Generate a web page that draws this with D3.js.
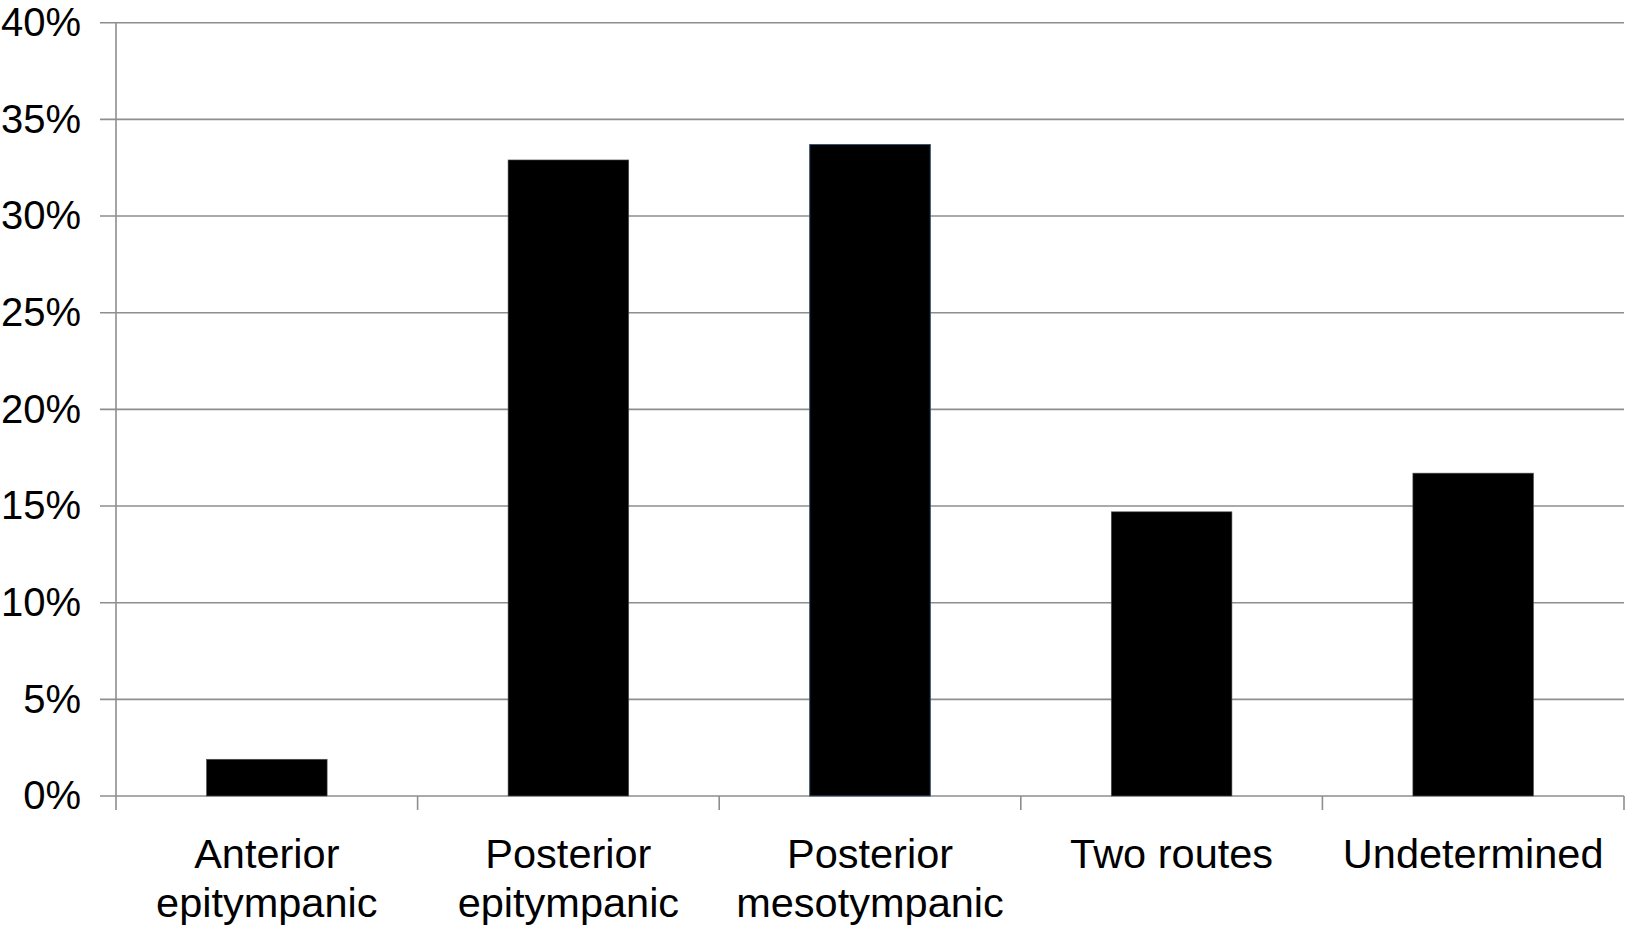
<!DOCTYPE html>
<html>
<head>
<meta charset="utf-8">
<script src="https://cdn.jsdelivr.net/npm/d3@7"></script>
<style>
  body { margin: 0; background: #fff; }
  svg { display: block; }
  text { font-family: "Liberation Sans", Arial, Helvetica, sans-serif; fill: #000; }
</style>
</head>
<body>
<div class="chart"></div>
<script>
// categories (line breaks as in the original labels)
const categories = [
    "Anterior\nepitympanic",
    "Posterior\nepitympanic",
    "Posterior\nmesotympanic",
    "Two routes",
    "Undetermined"
];
// share of cases per route
const values = [0.019, 0.329, 0.337, 0.147, 0.167];
const yTicks = [0, 0.05, 0.10, 0.15, 0.20, 0.25, 0.30, 0.35, 0.40];

const svgWidth = 1625, svgHeight = 927;
const margin = { top: 22.7, left: 116, bottom: 131, right: 1 };

const svg = d3.select('.chart').append('svg')
    .attr('width', svgWidth)
    .attr('height', svgHeight);

//SCALES
const x = d3.scaleBand()
    .domain(categories)
    .range([margin.left, svgWidth - margin.right])
    .padding(0);

const y = d3.scaleLinear()
    .domain([0, 0.4])
    .range([svgHeight - margin.bottom, margin.top]);

const gridColor = "#8e8e8e";

//GRIDLINES
svg.append("g")
    .selectAll("line")
    .data(yTicks)
    .join("line")
    .attr("x1", margin.left - 16)
    .attr("x2", svgWidth - margin.right)
    .attr("y1", d => y(d))
    .attr("y2", d => y(d))
    .attr("stroke", gridColor)
    .attr("stroke-width", 1.6);

//Y AXIS (labels only, line drawn below)
const yAxis = d3.axisLeft(y)
    .tickValues(yTicks)
    .tickFormat(d3.format(".0%"))
    .tickSize(0)
    .tickPadding(35);

svg.append("g")
    .attr("transform", `translate(${margin.left},0)`)
    .call(yAxis)
    .call(g => g.select(".domain").remove())
    .call(g => g.selectAll("text")
        .attr("font-size", 40)
        .attr("font-family", '"Liberation Sans", Arial, sans-serif'));

//VERTICAL AXIS LINE (runs down into the first tick)
svg.append("line")
    .attr("x1", margin.left).attr("x2", margin.left)
    .attr("y1", y(0.4)).attr("y2", y(0) + 14)
    .attr("stroke", gridColor)
    .attr("stroke-width", 1.6);

//X TICKS at category boundaries
const edges = categories.map(c => x(c)).concat([x(categories[categories.length - 1]) + x.bandwidth()]);
svg.append("g")
    .selectAll("line")
    .data(edges.slice(1))
    .join("line")
    .attr("x1", d => d).attr("x2", d => d)
    .attr("y1", y(0)).attr("y2", y(0) + 14)
    .attr("stroke", gridColor)
    .attr("stroke-width", 1.6);

//BARS
const barRatio = 0.4;
svg.append("g")
    .selectAll("rect")
    .data(values)
    .join("rect")
    .attr("x", (d, i) => x(categories[i]) + x.bandwidth() * (1 - barRatio) / 2)
    .attr("width", x.bandwidth() * barRatio)
    .attr("y", d => y(d))
    .attr("height", d => y(0) - y(d))
    .attr("fill", "#000")
    .attr("stroke", (d, i) => i === 2 ? "#3b5573" : "#555")
    .attr("stroke-width", (d, i) => i === 2 ? 1 : 0.6);

//X LABELS
const labels = svg.append("g")
    .selectAll("text")
    .data(categories)
    .join("text")
    .attr("text-anchor", "middle")
    .attr("font-size", 41.5)
    .attr("x", d => x(d) + x.bandwidth() / 2)
    .attr("y", 867.5);

labels.selectAll("tspan")
    .data(d => d.split("\n").map(t => ({ t, x: x(d) + x.bandwidth() / 2 })))
    .join("tspan")
    .attr("x", d => d.x)
    .attr("dy", (d, i) => i === 0 ? 0 : 49)
    .text(d => d.t);
</script>
</body>
</html>
